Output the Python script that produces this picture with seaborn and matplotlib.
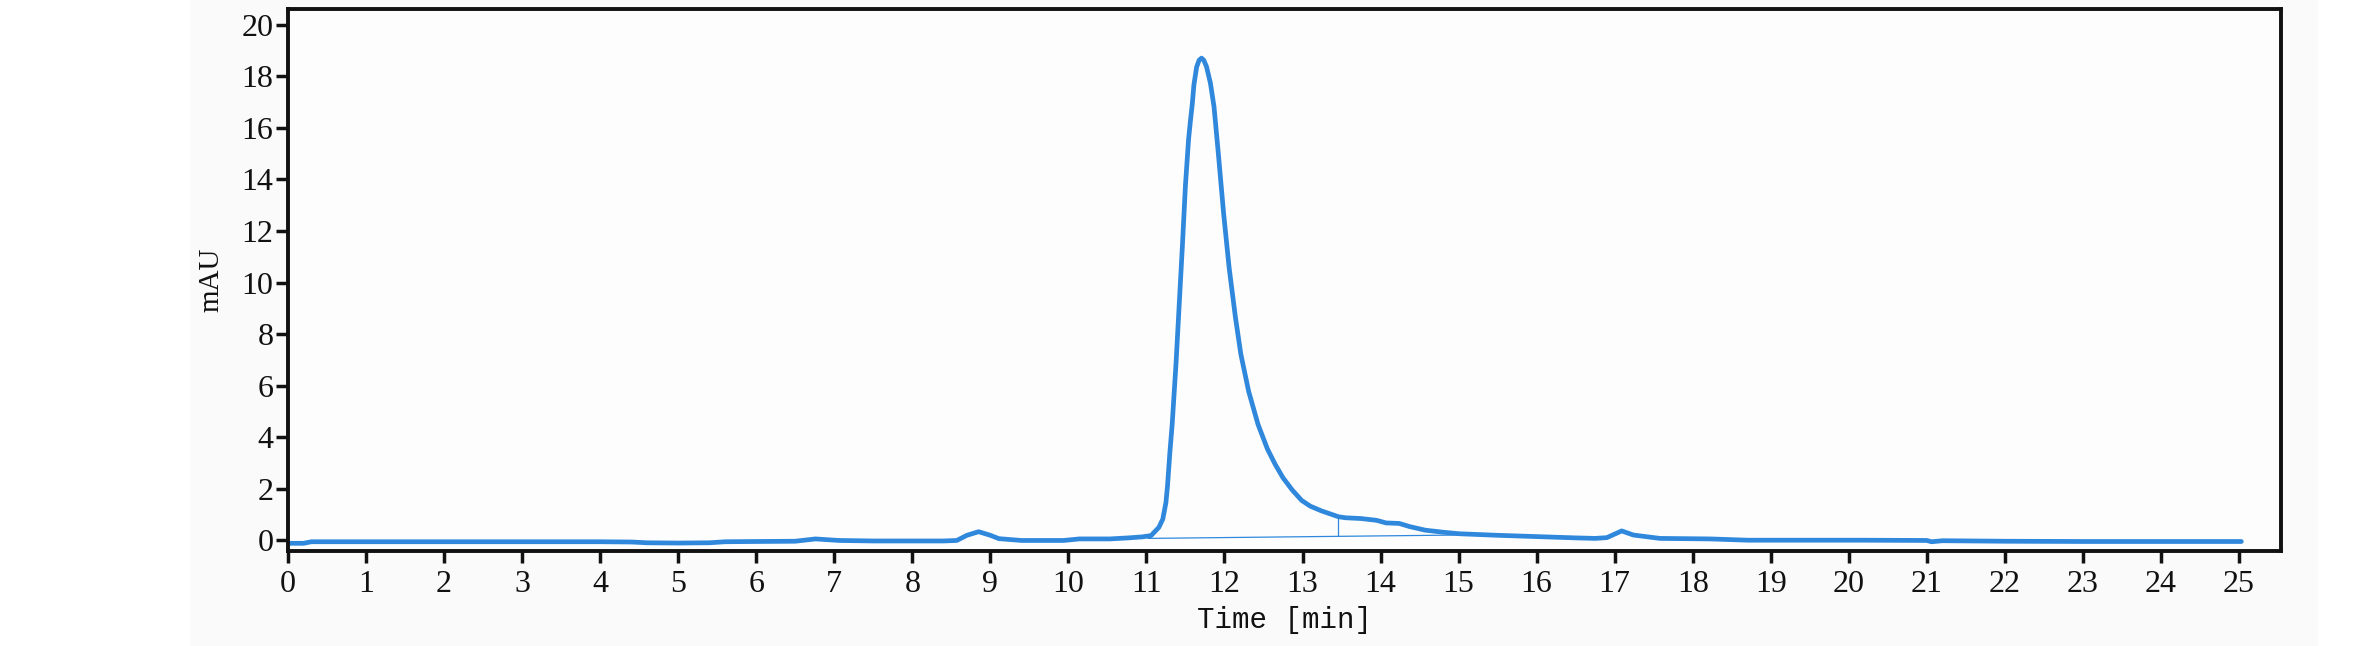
import numpy as np
import pandas as pd
import matplotlib
matplotlib.use('Agg')
import matplotlib.pyplot as plt
import seaborn as sns

# ── Data ──────────────────────────────────────────────────
time_min = [0.0, 0.2, 0.3, 1.0, 2.0, 3.0, 4.0, 4.4, 4.6, 5.0, 5.4, 5.6,
            6.0, 6.5, 6.76, 7.06, 7.5, 8.0, 8.4, 8.57, 8.7, 8.85, 9.0,
            9.11, 9.4, 9.94, 10.14, 10.53, 10.77, 10.95, 11.06, 11.16,
            11.21, 11.25, 11.27, 11.30, 11.33, 11.38, 11.42, 11.46, 11.50,
            11.54, 11.565, 11.587, 11.608, 11.643, 11.675, 11.706, 11.735,
            11.77, 11.82, 11.866, 11.92, 11.99, 12.06, 12.14, 12.21, 12.31,
            12.43, 12.55, 12.65, 12.75, 12.87, 12.99, 13.1, 13.24, 13.46,
            13.55, 13.75, 13.95, 14.07, 14.24, 14.37, 14.57, 14.8, 15.01,
            15.5, 16.0, 16.5, 16.75, 16.9, 17.09, 17.24, 17.58, 18.22,
            18.71, 20.18, 21.0, 21.06, 21.2, 22.0, 23.0, 24.0, 25.03]
mau = [-0.11, -0.11, -0.05, -0.05, -0.05, -0.05, -0.05, -0.06, -0.09, -0.10,
       -0.09, -0.05, -0.04, -0.03, 0.06, 0.0, -0.02, -0.02, -0.02, 0.0,
       0.20, 0.34, 0.20, 0.07, 0.0, 0.0, 0.06, 0.06, 0.10, 0.14, 0.19, 0.51,
       0.83, 1.47, 2.11, 3.39, 4.50, 6.90, 9.14, 11.37, 13.77,
       15.55, 16.30, 16.90, 17.65, 18.35, 18.62, 18.70, 18.62,
       18.37, 17.73, 16.82, 15.05, 12.65, 10.57, 8.66, 7.22, 5.78,
       4.50, 3.55, 2.95, 2.43, 1.95, 1.55, 1.33, 1.15, 0.92,
       0.88, 0.85, 0.78, 0.68, 0.66, 0.54, 0.40, 0.32, 0.26,
       0.20, 0.15, 0.10, 0.08, 0.11, 0.37, 0.21, 0.08, 0.06,
       0.01, 0.01, 0.0, -0.05, -0.01, -0.03, -0.04, -0.04, -0.04]

# integration baseline and peak split (drop line)
base_t = [11.02, 15.3]
base_v = [0.08, 0.22]
drop_t = [13.46, 13.46]
drop_v = [0.155, 0.92]

x_ticks = list(range(0, 26))
y_ticks = list(range(0, 21, 2))

df = pd.DataFrame({'Time': time_min, 'mAU': mau})

# ── Style ─────────────────────────────────────────────────
sns.set_theme(style='ticks')
plt.rcParams['font.family'] = ['Liberation Serif', 'DejaVu Serif']
line_col = '#2f88dc'

fig = plt.figure(figsize=(23.72, 6.46), dpi=100, facecolor='white')
fig.patches.append(plt.Rectangle((190 / 2372, 0), (2318 - 190) / 2372, 1,
                                 transform=fig.transFigure,
                                 facecolor='#fafafa', edgecolor='none',
                                 zorder=-1))
ax = fig.add_axes([0.1214, 0.1466, 0.8403, 0.8393])
ax.set_facecolor('#fdfdfd')

sns.lineplot(data=df, x='Time', y='mAU', ax=ax, color=line_col,
             linewidth=3.4, estimator=None, sort=False)
ax.plot(base_t, base_v, color=line_col, linewidth=0.9)
ax.plot(drop_t, drop_v, color=line_col, linewidth=0.9)

ax.set_xlim(0, 25.54)
ax.set_ylim(-0.42, 20.6)
ax.set_xticks(x_ticks)
ax.set_yticks(y_ticks)
ax.set_xticklabels([str(t) for t in x_ticks])
ax.set_yticklabels([str(t) for t in y_ticks])

for s in ax.spines.values():
    s.set_visible(True)
    s.set_linewidth(2.8)
    s.set_color('#111111')

ax.tick_params(axis='both', direction='out', length=8.5, width=2.5,
               color='#111111', labelsize=23, labelcolor='#111111', pad=2)
ax.tick_params(axis='x', pad=5)

ax.set_xlabel('Time [min]', fontsize=21, family=['Liberation Mono'],
              color='#111111', labelpad=5)
ax.set_ylabel('mAU', fontsize=21, color='#111111', labelpad=12)

plt.savefig('out.png', dpi=100)
